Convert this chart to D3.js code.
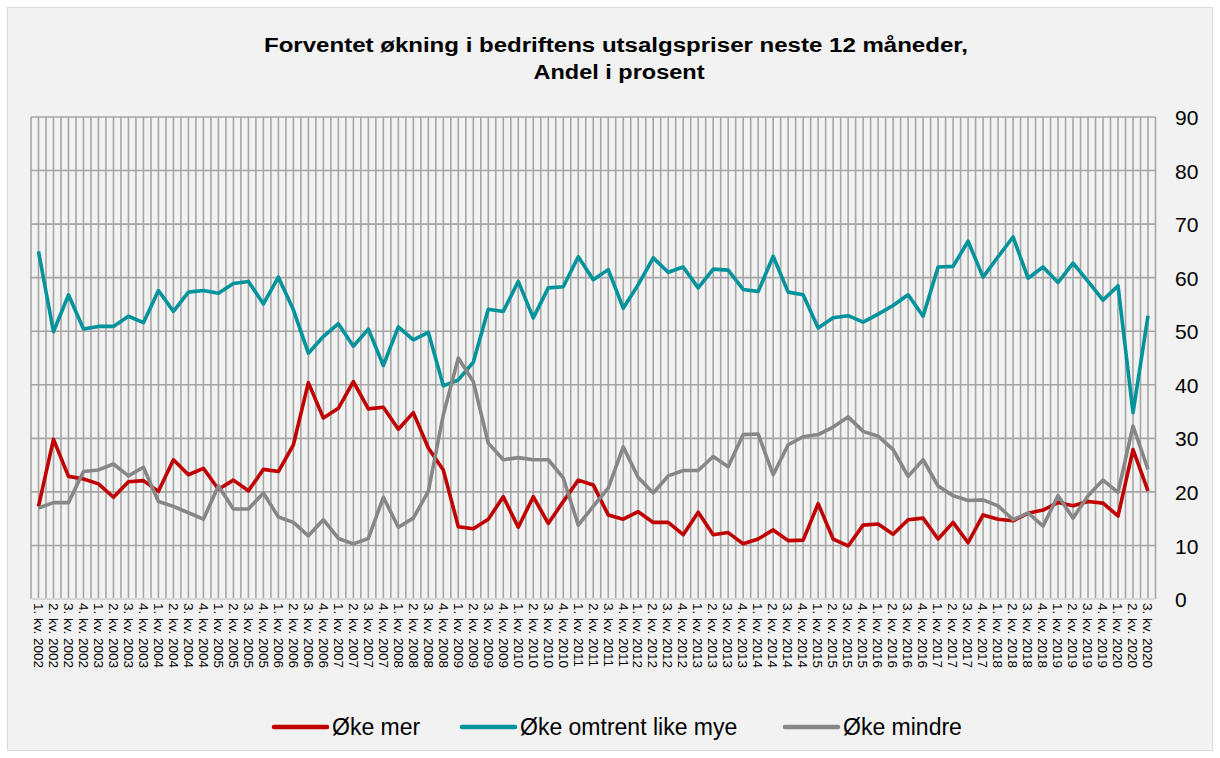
<!DOCTYPE html>
<html><head><meta charset="utf-8">
<script src="https://cdn.jsdelivr.net/npm/d3@7"></script>
<style>
html,body{margin:0;padding:0;background:#ffffff;}
svg{display:block;font-family:"Liberation Sans",Arial,sans-serif;}
</style></head>
<body><svg id="chart" width="1220" height="758"></svg>
<script>
const years = d3.range(2002, 2021);
const quarters = [];
years.forEach(y => { for (let q = 1; q <= 4; q++) { if (y === 2020 && q > 3) break; quarters.push(q + ". kv. " + y); } });

const okeMer = [17.3,29.8,22.9,22.4,21.5,19.0,21.9,22.1,20.1,26.0,23.2,24.4,20.5,22.2,20.2,24.2,23.8,28.8,40.4,33.8,
35.6,40.6,35.5,35.8,31.7,34.8,28.2,24.1,13.5,13.1,14.9,19.1,13.4,19.1,14.1,18.2,22.2,21.3,15.7,14.9,
16.3,14.3,14.3,12.0,16.2,12.0,12.4,10.3,11.2,12.9,10.9,11.0,17.8,11.2,9.9,13.8,14.0,12.1,14.8,15.1,
11.2,14.3,10.5,15.7,14.9,14.6,16.0,16.6,18.0,17.4,18.2,17.9,15.5,27.9,20.2];

const okeLike = [64.9,49.9,56.8,50.4,50.9,50.9,52.8,51.6,57.6,53.7,57.3,57.6,57.1,58.9,59.3,55.1,60.1,54.0,45.9,49.0,
51.4,47.2,50.4,43.6,50.8,48.4,49.8,39.8,40.9,44.2,54.1,53.7,59.3,52.5,58.1,58.3,63.9,59.6,61.5,54.3,
58.7,63.7,61.0,62.0,58.1,61.6,61.4,57.8,57.4,64.0,57.3,56.8,50.6,52.5,52.9,51.7,53.2,54.8,56.8,52.8,
62.0,62.1,66.8,60.1,63.9,67.6,59.9,62.0,59.1,62.7,59.3,55.8,58.5,34.8,52.9];

const okeMindre = [17.0,18.0,18.0,23.8,24.1,25.2,23.0,24.6,18.2,17.3,16.1,14.9,21.1,16.8,16.8,19.8,15.3,14.3,11.8,14.8,
11.3,10.3,11.3,19.0,13.4,15.1,20.1,34.4,45.0,40.6,29.1,26.0,26.4,26.0,26.0,22.6,13.8,17.3,20.7,28.4,
22.7,19.8,23.0,24.0,24.0,26.6,24.7,30.7,30.8,23.2,28.8,30.3,30.7,32.1,34.0,31.3,30.4,27.9,22.9,26.0,
21.1,19.3,18.4,18.5,17.4,14.8,16.1,13.6,19.3,15.1,19.3,22.2,19.9,32.3,24.2];

const yTicks = [0,10,20,30,40,50,60,70,80,90];
const seriesNames = ["Øke mer", "Øke omtrent like mye", "Øke mindre"];
const seriesColors = ["#c00000", "#00939b", "#878787"];
const seriesData = [okeMer, okeLike, okeMindre];

const svg = d3.select("#chart");
const L = 31, R = 1155.5, T = 117, B = 599;

svg.append("rect").attr("x",7.5).attr("y",7.5).attr("width",1205).attr("height",743)
  .attr("fill","#f2f2f2").attr("stroke","#d9d9d9").attr("stroke-width",1);

const x = d3.scaleBand().domain(quarters).range([L, R]).padding(0);
const y = d3.scaleLinear().domain([0, 90]).range([B, T]);
const bw = x.bandwidth();

// vertical gridlines at category boundaries and centers
const vg = [];
quarters.forEach(q => { vg.push(x(q)); vg.push(x(q) + bw/2); });
vg.push(R);
svg.append("g").selectAll("line").data(vg).join("line")
  .attr("x1", d => d).attr("x2", d => d).attr("y1", T).attr("y2", B)
  .attr("stroke", "#a6a6a6").attr("stroke-width", 1.6);

// horizontal gridlines
svg.append("g").selectAll("line").data(yTicks.filter(t => t > 0)).join("line")
  .attr("x1", L).attr("x2", R).attr("y1", d => y(d)).attr("y2", d => y(d))
  .attr("stroke", "#a6a6a6").attr("stroke-width", 1.6);

// bottom axis line
svg.append("line").attr("x1", L).attr("x2", R).attr("y1", y(0)).attr("y2", y(0))
  .attr("stroke", "#d9d9d9").attr("stroke-width", 2);

// right y axis labels
const yAxis = d3.axisRight(y).tickValues(yTicks).tickSize(0).tickPadding(0);
const ya = svg.append("g").attr("transform", "translate(1175,0)").call(yAxis);
ya.select(".domain").remove();
ya.selectAll("text").attr("font-size", 21).attr("fill", "#000").attr("font-family", '"Liberation Sans",Arial,sans-serif').attr("dy","0.36em");

// x labels rotated
const xAxis = d3.axisBottom(x).tickSize(0).tickPadding(0);
const xa = svg.append("g").attr("transform", "translate(0," + (B + 4) + ")").call(xAxis);
xa.select(".domain").remove();
xa.selectAll("text")
  .attr("font-size", 13.5).attr("fill", "#000")
  .attr("font-family", '"Liberation Sans",Arial,sans-serif')
  .attr("text-anchor", "start")
  .attr("transform", "rotate(90)")
  .attr("x", 0).attr("y", 0).attr("dy", "0.35em");

// lines
const line = d3.line().x((d, i) => x(quarters[i]) + bw/2).y(d => y(d));
seriesData.forEach((s, k) => {
  svg.append("path").datum(s).attr("d", line).attr("fill", "none")
    .attr("stroke", seriesColors[k]).attr("stroke-width", 3.6)
    .attr("stroke-linejoin", "round");
});

// title
svg.append("text").attr("x", 616).attr("y", 52).attr("text-anchor", "middle")
  .attr("font-size", 20).attr("font-weight", "bold")
  .attr("textLength", 704).attr("lengthAdjust", "spacingAndGlyphs")
  .text("Forventet økning i bedriftens utsalgspriser neste 12 måneder,");
svg.append("text").attr("x", 619).attr("y", 79).attr("text-anchor", "middle")
  .attr("font-size", 20).attr("font-weight", "bold")
  .attr("textLength", 171).attr("lengthAdjust", "spacingAndGlyphs")
  .text("Andel i prosent");

// legend
const legX = [274, 462, 785];
seriesNames.forEach((n, k) => {
  const g = svg.append("g");
  g.append("line").attr("x1", legX[k]).attr("x2", legX[k] + 53).attr("y1", 727).attr("y2", 727)
    .attr("stroke", seriesColors[k]).attr("stroke-width", 4.5).attr("stroke-linecap", "round");
  g.append("text").attr("x", legX[k] + 58).attr("y", 735).attr("font-size", 23).text(n);
});
</script></body></html>
